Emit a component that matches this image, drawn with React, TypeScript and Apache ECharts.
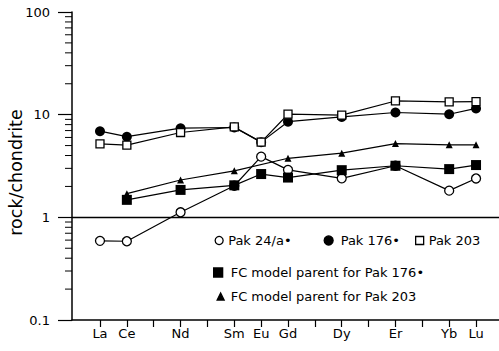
import React, { useEffect, useRef } from "react";
import * as echarts from "echarts";

// All REE positions on the x axis (ticks) and the ones that carry a label / data
const allElements = ["La", "Ce", "Pr", "Nd", "Pm", "Sm", "Eu", "Gd", "Tb", "Dy", "Ho", "Er", "Tm", "Yb", "Lu"];
const labeledElements = ["La", "Ce", "Nd", "Sm", "Eu", "Gd", "Dy", "Er", "Yb", "Lu"];

// rock/chondrite values, in the order of labeledElements (null = not plotted)
const pak24a = [0.59, 0.585, 1.12, 2.03, 3.9, 2.9, 2.4, 3.18, 1.82, 2.39];
const pak176 = [6.9, 6.1, 7.38, 7.5, 5.4, 8.55, 9.5, 10.5, 10.1, 11.5];
const pak203 = [5.2, 5.05, 6.7, 7.6, 5.4, 10.1, 9.9, 13.6, 13.3, 13.4];
const fc176 = [null, 1.48, 1.85, 2.05, 2.64, 2.44, 2.88, 3.18, 2.95, 3.23];
const fc203 = [null, 1.7, 2.31, 2.84, null, 3.76, 4.22, 5.23, 5.08, 5.08];

// y axis (log) ticks
const yMin = 0.1;
const yMax = 100;
const minorTickValues = [0.2, 0.3, 0.4, 0.5, 0.6, 0.7, 0.8, 0.9, 2, 3, 4, 5, 6, 7, 8, 9, 20, 30, 40, 50, 60, 70, 80, 90];
const referenceLine = 1;

const seriesNames = [
  "Pak 24/a•",
  "Pak 176•",
  "Pak 203",
  "FC model parent for Pak 176•",
  "FC model parent for Pak 203",
];

const X_MIN = -1.042;
const X_MAX = 14.855;

const toPoints = (vals: (number | null)[]) =>
  labeledElements
    .map((el, k) => (vals[k] == null ? null : [allElements.indexOf(el), vals[k]]))
    .filter((p) => p !== null);

const FONT = "DejaVu Sans";

export default function App() {
  const ref = useRef<HTMLDivElement>(null);

  useEffect(() => {
    if (!ref.current) return;
    const chart = echarts.init(ref.current, undefined, { renderer: "svg" });

    const lineStyle = { color: "#000", width: 1.2 };
    const openStyle = { color: "#fff", borderColor: "#000", borderWidth: 1.3 };
    const filledStyle = { color: "#000", borderColor: "#000", borderWidth: 0 };

    const legendText = (padLeft: number) => ({
      fontFamily: FONT,
      fontSize: 13,
      color: "#000",
      padding: [0, 0, 0, padLeft],
    });
    const legendBase = {
      orient: "horizontal",
      padding: 0,
      selectedMode: false,
      itemStyle: { borderWidth: 1.3 },
    };

    chart.setOption({
      animation: false,
      backgroundColor: "#fff",
      textStyle: { fontFamily: FONT, color: "#000" },
      grid: { left: 72, right: 0, top: 12, bottom: 31, outerBoundsMode: "none" },
      xAxis: {
        type: "value",
        min: X_MIN,
        max: X_MAX,
        axisLine: { onZero: false, lineStyle: { color: "#000", width: 1.5 } },
        axisTick: {
          show: true,
          length: 7,
          lineStyle: { color: "#000", width: 1.2 },
          customValues: allElements.map((_, i) => i),
        },
        axisLabel: {
          fontSize: 13,
          color: "#000",
          margin: 7,
          customValues: labeledElements.map((e) => allElements.indexOf(e)),
          formatter: (v: number) => allElements[Math.round(v)] ?? "",
        },
        splitLine: { show: false },
      },
      yAxis: {
        type: "log",
        logBase: 10,
        min: yMin,
        max: yMax,
        position: "left",
        name: "rock/chondrite",
        nameLocation: "middle",
        nameRotate: 90,
        nameGap: 47,
        nameMoveOverlap: false,
        nameTextStyle: { fontSize: 17.5, color: "#000", fontFamily: FONT, padding: [0, 13, 0, 0] },
        axisLine: { show: true, onZero: false, lineStyle: { color: "#000", width: 1.5 } },
        axisTick: { show: true, inside: false, length: 14, lineStyle: { color: "#000", width: 1.2 } },
        axisLabel: { fontSize: 13, color: "#000", margin: 22 },
        splitLine: { show: false },
      },
      legend: [
        {
          ...legendBase,
          left: 214.5,
          top: 234,
          itemWidth: 8,
          itemHeight: 8,
          textStyle: legendText(0),
          data: [{ name: seriesNames[0], icon: "circle" }],
        },
        {
          ...legendBase,
          left: 323.5,
          top: 234,
          itemWidth: 9,
          itemHeight: 9,
          textStyle: legendText(2.5),
          data: [{ name: seriesNames[1], icon: "circle" }],
        },
        {
          ...legendBase,
          left: 415,
          top: 234,
          itemWidth: 8,
          itemHeight: 8,
          textStyle: legendText(0),
          data: [{ name: seriesNames[2], icon: "rect" }],
        },
        {
          ...legendBase,
          left: 213,
          top: 266,
          itemWidth: 9,
          itemHeight: 9,
          textStyle: legendText(3),
          data: [{ name: seriesNames[3], icon: "rect" }],
        },
        {
          ...legendBase,
          left: 216.5,
          top: 290,
          itemWidth: 7,
          itemHeight: 7,
          textStyle: legendText(1.5),
          data: [{ name: seriesNames[4], icon: "triangle" }],
        },
      ],
      series: [
        {
          // minor ticks of the log axis, placed through the axis scale
          name: "minorTicks",
          type: "custom",
          silent: true,
          clip: false,
          data: minorTickValues.map((v) => [X_MIN, v]),
          encode: { x: 0, y: 1 },
          renderItem: (_params: any, api: any) => {
            const pt = api.coord([api.value(0), api.value(1)]);
            return {
              type: "line",
              shape: { x1: pt[0] - 7, y1: pt[1], x2: pt[0], y2: pt[1] },
              style: { stroke: "#000", lineWidth: 1 },
            };
          },
          z: 1,
        },
        {
          name: seriesNames[0],
          type: "line",
          data: toPoints(pak24a),
          symbol: "circle",
          symbolSize: 9,
          itemStyle: openStyle,
          lineStyle,
          z: 2,
          markLine: {
            silent: true,
            symbol: "none",
            label: { show: false },
            lineStyle: { color: "#000", width: 1.3, type: "solid" },
            data: [{ yAxis: referenceLine }],
          },
        },
        {
          name: seriesNames[4],
          type: "line",
          data: toPoints(fc203),
          symbol: "triangle",
          symbolSize: 7,
          itemStyle: filledStyle,
          lineStyle,
          z: 3,
        },
        {
          name: seriesNames[3],
          type: "line",
          data: toPoints(fc176),
          symbol: "rect",
          symbolSize: 10,
          itemStyle: filledStyle,
          lineStyle,
          z: 4,
        },
        {
          name: seriesNames[1],
          type: "line",
          data: toPoints(pak176),
          symbol: "circle",
          symbolSize: 10,
          itemStyle: filledStyle,
          lineStyle,
          z: 5,
        },
        {
          name: seriesNames[2],
          type: "line",
          data: toPoints(pak203),
          symbol: "rect",
          symbolSize: 8,
          itemStyle: openStyle,
          lineStyle,
          z: 6,
        },
      ],
    });

    return () => chart.dispose();
  }, []);

  return (
    <div
      ref={ref}
      style={{ position: "fixed", left: 0, top: 0, width: 499, height: 351, background: "#fff" }}
    />
  );
}
